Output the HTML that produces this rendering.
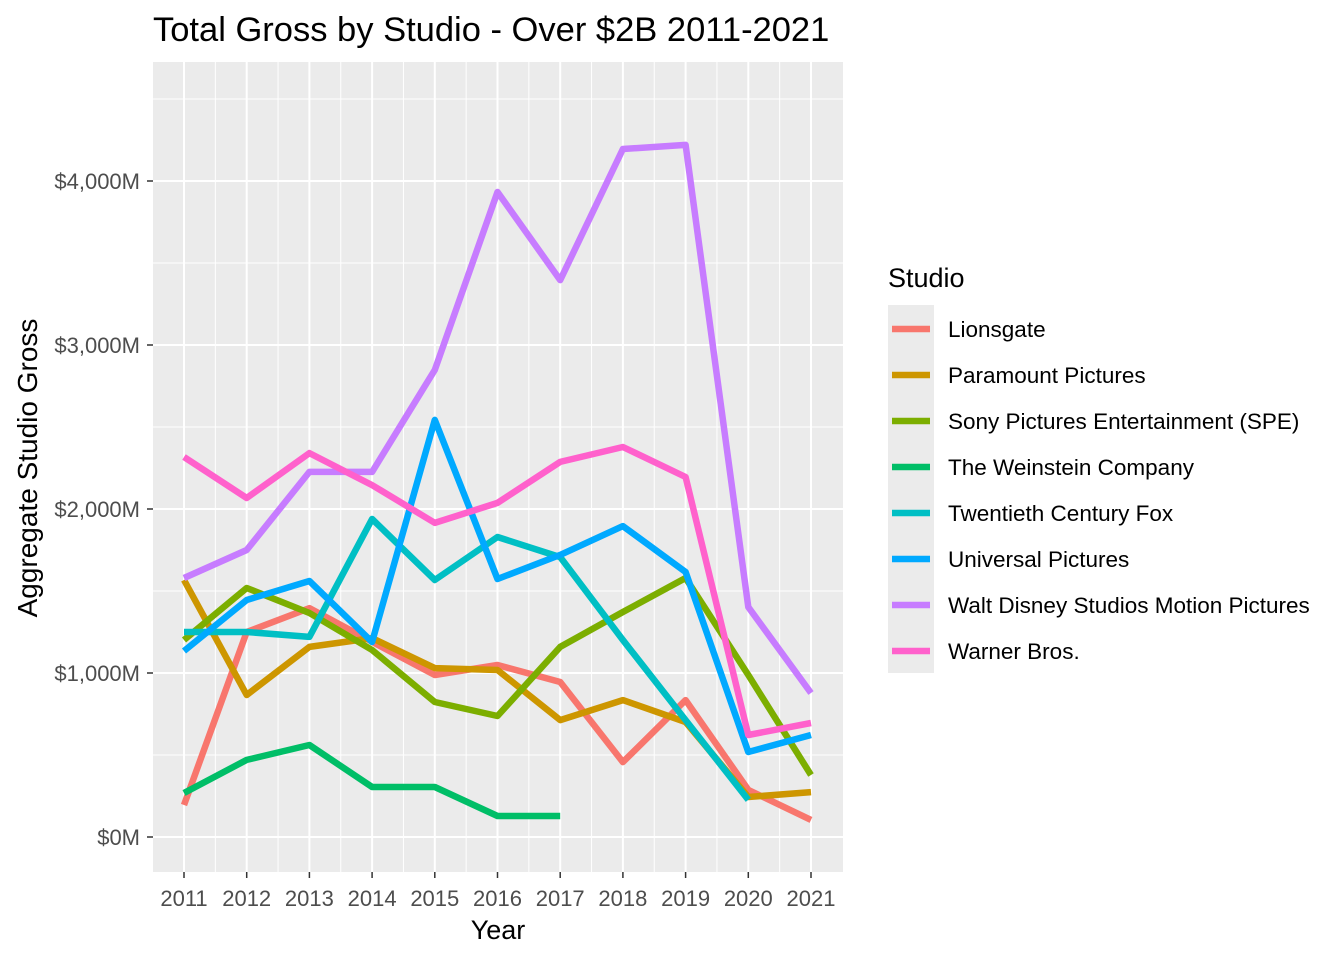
<!DOCTYPE html>
<html><head><meta charset="utf-8"><style>
body{margin:0;background:#fff;font-family:"Liberation Sans",Arial,sans-serif}
svg text{font-family:"Liberation Sans",Arial,sans-serif}
</style></head><body>
<svg id="chart" width="1344" height="960" xmlns="http://www.w3.org/2000/svg">
<rect width="1344" height="960" fill="#fff"/>
<text x="153" y="41" font-size="34.5" fill="#000">Total Gross by Studio - Over $2B 2011-2021</text>
<rect x="153" y="62" width="690" height="810" fill="#ebebeb"/>
<g id="grid"></g>
<g id="lines"></g>
<g id="axes"></g>
<text x="498" y="939" font-size="27" text-anchor="middle">Year</text>
<text transform="translate(37,468) rotate(-90)" font-size="28" text-anchor="middle">Aggregate Studio Gross</text>
<g id="legend"></g>
</svg>
<script>
const years=[2011,2012,2013,2014,2015,2016,2017,2018,2019,2020,2021];
const studios=["Lionsgate","Paramount Pictures","Sony Pictures Entertainment (SPE)","The Weinstein Company","Twentieth Century Fox","Universal Pictures","Walt Disney Studios Motion Pictures","Warner Bros."];
const colors=["#F8766D","#CD9600","#7CAE00","#00BE67","#00BFC4","#00A9FF","#C77CFF","#FF61CC"];
const lionsgate=[195,1250,1396,1190,988,1049,945,457,835,287,104];
const paramount=[1567,866,1159,1213,1030,1018,713,835,701,244,274];
const sony=[1201,1518,1366,1140,823,738,1159,1372,1579,988,378];
const weinstein=[268,470,561,305,305,128,128,null,null,null,null];
const fox=[1250,1250,1220,1939,1567,1829,1707,1201,713,226,null];
const universal=[1134,1445,1561,1189,2543,1573,1720,1896,1616,518,622];
const disney=[1579,1750,2226,2226,2848,3933,3396,4195,4220,1402,878];
const warner=[2317,2067,2341,2146,1915,2037,2287,2378,2195,622,695];
const yTicks=[0,1000,2000,3000,4000];
const yTickLabels=["$0M","$1,000M","$2,000M","$3,000M","$4,000M"];
const series=[lionsgate,paramount,sony,weinstein,fox,universal,disney,warner];
const NS="http://www.w3.org/2000/svg";
const X=y=>184+(y-2011)*62.7;
const Y=v=>837-v*0.164;
function mk(tag,attrs,parent){const e=document.createElementNS(NS,tag);for(const k in attrs)e.setAttribute(k,attrs[k]);parent.appendChild(e);return e;}
const grid=document.getElementById('grid'),axes=document.getElementById('axes'),lines=document.getElementById('lines'),legend=document.getElementById('legend');
for(let i=0;i<years.length-1;i++){const x=(X(years[i])+X(years[i+1]))/2;const l=mk('line',{x1:x,x2:x,y1:62,y2:872,stroke:'#fff','stroke-width':1},grid);}
for(let v=-500;v<=4500;v+=1000){if(Y(v)<62||Y(v)>872)continue;const l=mk('line',{x1:153,x2:843,y1:Y(v),y2:Y(v),stroke:'#fff','stroke-width':1},grid);}
years.forEach(y=>{const l=mk('line',{x1:X(y),x2:X(y),y1:62,y2:872,stroke:'#fff','stroke-width':2},grid);
const t=mk('line',{x1:X(y),x2:X(y),y1:872,y2:878,stroke:'#333','stroke-width':1.5},axes);
const tx=mk('text',{x:X(y),y:906,'font-size':22,fill:'#4d4d4d','text-anchor':'middle'},axes);tx.textContent=y;});
yTicks.forEach((v,i)=>{const l=mk('line',{x1:153,x2:843,y1:Y(v),y2:Y(v),stroke:'#fff','stroke-width':2},grid);
const t=mk('line',{x1:147,x2:153,y1:Y(v),y2:Y(v),stroke:'#333','stroke-width':1.5},axes);
const tx=mk('text',{x:140,y:Y(v)+8,'font-size':22,fill:'#4d4d4d','text-anchor':'end'},axes);tx.textContent=yTickLabels[i];});
series.forEach((s,i)=>{let d='';let pen=false;s.forEach((v,j)=>{if(v==null){pen=false;return;}d+=(pen?'L':'M')+X(years[j]).toFixed(1)+','+Y(v).toFixed(1);pen=true;});
const p=mk('path',{d:d,fill:'none',stroke:colors[i],'stroke-width':6.5,'stroke-linejoin':'round'},lines);});
const lt=mk('text',{x:888,y:287,'font-size':27},legend);lt.textContent='Studio';
const kb=mk('rect',{x:888,y:305,width:46,height:368,fill:'#ebebeb'},legend);
studios.forEach((s,i)=>{const y=329+i*46;const g=mk('g',{},legend);
mk('line',{x1:892,x2:930,y1:y,y2:y,stroke:colors[i],'stroke-width':6.5},g);
const t=mk('text',{x:948,y:y+8,'font-size':22.5,fill:'#000'},g);t.textContent=s;});
</script>
</body></html>
